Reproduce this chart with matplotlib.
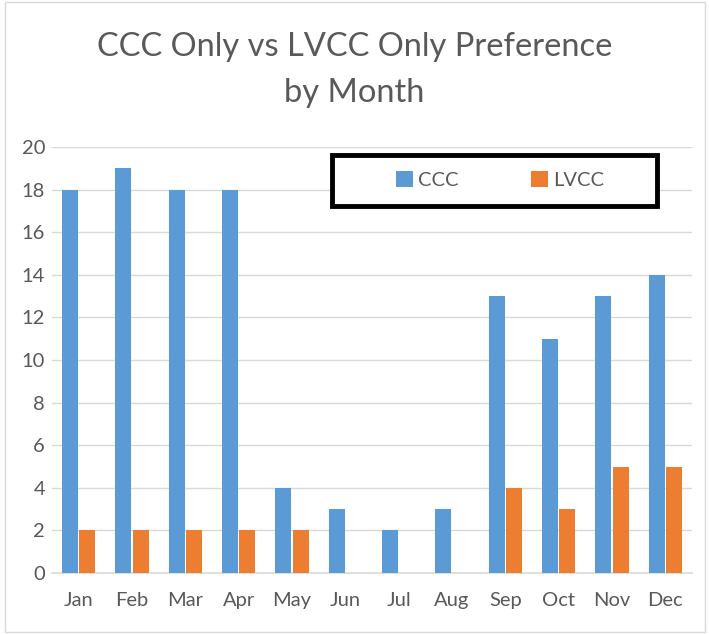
import numpy as np
import matplotlib.pyplot as plt
from matplotlib.patches import Rectangle

months = ["Jan", "Feb", "Mar", "Apr", "May", "Jun", "Jul", "Aug", "Sep", "Oct", "Nov", "Dec"]
ccc = [18, 19, 18, 18, 4, 3, 2, 3, 13, 11, 13, 14]
lvcc = [2, 2, 2, 2, 2, 0, 0, 0, 4, 3, 5, 5]

BLUE = "#5B9BD5"
ORANGE = "#ED7D31"
TEXT = "#595959"

plt.rcParams["font.family"] = ["Lato", "DejaVu Sans"]

fig = plt.figure(figsize=(7.09, 6.34), dpi=100)
ax = fig.add_axes([52 / 709, 1 - 573 / 634, 640 / 709, 426 / 634])

x = np.arange(len(months))
w = 0.3
ax.bar(x - 0.165, ccc, width=w, color=BLUE, label="CCC", zorder=3)
ax.bar(x + 0.165, lvcc, width=w, color=ORANGE, label="LVCC", zorder=3)

ax.set_xlim(-0.5, len(months) - 0.5)
ax.set_ylim(0, 20)
ax.set_yticks(range(0, 21, 2))
ax.set_xticks(x)
ax.set_xticklabels(months)
ax.tick_params(length=0, labelsize=14.5, colors=TEXT)
ax.tick_params(axis="x", pad=14)
ax.tick_params(axis="y", pad=5)
ax.grid(axis="y", color="#D9D9D9", linewidth=1, zorder=0)
for side in ["left", "right", "top"]:
    ax.spines[side].set_visible(False)
ax.spines["bottom"].set_color("#D9D9D9")
ax.spines["bottom"].set_linewidth(1.2)

fig.text(0.5, 1 - 47 / 634, "CCC Only vs LVCC Only Preference", ha="center", va="center",
         fontsize=23.5, color=TEXT)
fig.text(0.5, 1 - 93 / 634, "by Month", ha="center", va="center", fontsize=23.5, color=TEXT)

# legend box drawn by hand, entries centred inside
box = Rectangle((332 / 709, 1 - 206 / 634), 325 / 709, 51 / 634, transform=fig.transFigure,
                fill=True, facecolor="white", edgecolor="black", linewidth=3.5, zorder=5)
fig.patches.append(box)
leg = fig.legend(loc="center", bbox_to_anchor=(500 / 709, 1 - 180 / 634), ncol=2,
                 frameon=False, fontsize=14.5, handlelength=0.85, handleheight=0.85,
                 handletextpad=0.25, columnspacing=3.6, labelcolor=TEXT)
leg.set_zorder(6)

# light outer chart border
fig.patches.append(Rectangle((5 / 709, 2 / 634), 700 / 709, 630 / 634, transform=fig.transFigure,
                             fill=False, edgecolor="#D9D9D9", linewidth=1))

fig.savefig("out.png", dpi=100)
